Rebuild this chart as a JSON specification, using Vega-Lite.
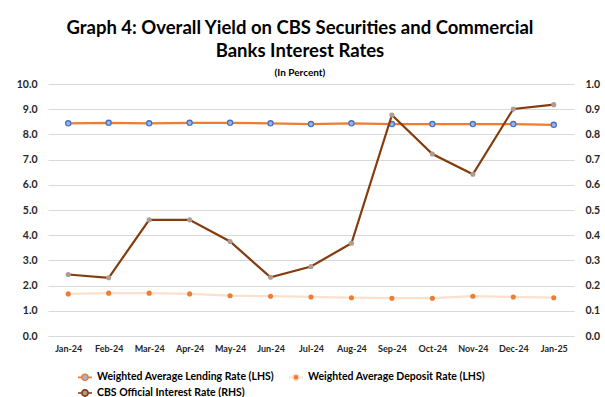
{
  "$schema": "https://vega.github.io/schema/vega-lite/v6.json",
  "width": 526,
  "height": 252,
  "autosize": {"type": "none"},
  "padding": {"left": 48, "top": 84, "right": 31, "bottom": 61},
  "background": "white",
  "title": {
    "text": ["Graph 4: Overall Yield on CBS Securities and Commercial", "Banks Interest Rates"],
    "subtitle": "(In Percent)",
    "font": "Lato",
    "fontSize": 18.5,
    "fontWeight": "bold",
    "lineHeight": 23,
    "color": "#000000",
    "subtitleFont": "Lato",
    "subtitleFontSize": 10,
    "subtitleFontWeight": "bold",
    "subtitleColor": "#000000",
    "subtitlePadding": 8,
    "anchor": "middle",
    "frame": "bounds",
    "dx": -8,
    "offset": 1
  },
  "data": {
    "values": [
      {"month": "Jan-24", "series": "Weighted Average Lending Rate (LHS)", "value": 8.44},
      {"month": "Feb-24", "series": "Weighted Average Lending Rate (LHS)", "value": 8.46},
      {"month": "Mar-24", "series": "Weighted Average Lending Rate (LHS)", "value": 8.44},
      {"month": "Apr-24", "series": "Weighted Average Lending Rate (LHS)", "value": 8.46},
      {"month": "May-24", "series": "Weighted Average Lending Rate (LHS)", "value": 8.46},
      {"month": "Jun-24", "series": "Weighted Average Lending Rate (LHS)", "value": 8.44},
      {"month": "Jul-24", "series": "Weighted Average Lending Rate (LHS)", "value": 8.41},
      {"month": "Aug-24", "series": "Weighted Average Lending Rate (LHS)", "value": 8.44},
      {"month": "Sep-24", "series": "Weighted Average Lending Rate (LHS)", "value": 8.41},
      {"month": "Oct-24", "series": "Weighted Average Lending Rate (LHS)", "value": 8.41},
      {"month": "Nov-24", "series": "Weighted Average Lending Rate (LHS)", "value": 8.41},
      {"month": "Dec-24", "series": "Weighted Average Lending Rate (LHS)", "value": 8.41},
      {"month": "Jan-25", "series": "Weighted Average Lending Rate (LHS)", "value": 8.38},
      {"month": "Jan-24", "series": "Weighted Average Deposit Rate (LHS)", "value": 1.67},
      {"month": "Feb-24", "series": "Weighted Average Deposit Rate (LHS)", "value": 1.70},
      {"month": "Mar-24", "series": "Weighted Average Deposit Rate (LHS)", "value": 1.70},
      {"month": "Apr-24", "series": "Weighted Average Deposit Rate (LHS)", "value": 1.67},
      {"month": "May-24", "series": "Weighted Average Deposit Rate (LHS)", "value": 1.60},
      {"month": "Jun-24", "series": "Weighted Average Deposit Rate (LHS)", "value": 1.58},
      {"month": "Jul-24", "series": "Weighted Average Deposit Rate (LHS)", "value": 1.55},
      {"month": "Aug-24", "series": "Weighted Average Deposit Rate (LHS)", "value": 1.52},
      {"month": "Sep-24", "series": "Weighted Average Deposit Rate (LHS)", "value": 1.50},
      {"month": "Oct-24", "series": "Weighted Average Deposit Rate (LHS)", "value": 1.50},
      {"month": "Nov-24", "series": "Weighted Average Deposit Rate (LHS)", "value": 1.58},
      {"month": "Dec-24", "series": "Weighted Average Deposit Rate (LHS)", "value": 1.55},
      {"month": "Jan-25", "series": "Weighted Average Deposit Rate (LHS)", "value": 1.52},
      {"month": "Jan-24", "series": "CBS Official Interest Rate (RHS)", "value": 0.244},
      {"month": "Feb-24", "series": "CBS Official Interest Rate (RHS)", "value": 0.231},
      {"month": "Mar-24", "series": "CBS Official Interest Rate (RHS)", "value": 0.461},
      {"month": "Apr-24", "series": "CBS Official Interest Rate (RHS)", "value": 0.461},
      {"month": "May-24", "series": "CBS Official Interest Rate (RHS)", "value": 0.375},
      {"month": "Jun-24", "series": "CBS Official Interest Rate (RHS)", "value": 0.233},
      {"month": "Jul-24", "series": "CBS Official Interest Rate (RHS)", "value": 0.276},
      {"month": "Aug-24", "series": "CBS Official Interest Rate (RHS)", "value": 0.368},
      {"month": "Sep-24", "series": "CBS Official Interest Rate (RHS)", "value": 0.877},
      {"month": "Oct-24", "series": "CBS Official Interest Rate (RHS)", "value": 0.722},
      {"month": "Nov-24", "series": "CBS Official Interest Rate (RHS)", "value": 0.642},
      {"month": "Dec-24", "series": "CBS Official Interest Rate (RHS)", "value": 0.901},
      {"month": "Jan-25", "series": "CBS Official Interest Rate (RHS)", "value": 0.918}
    ]
  },
  "encoding": {
    "x": {
      "field": "month",
      "type": "ordinal",
      "sort": null,
      "scale": {"type": "point", "padding": 0.5},
      "axis": {
        "title": null,
        "labelAngle": 0,
        "labelFont": "Lato",
        "labelFontSize": 9,
        "labelFontWeight": "bold",
        "labelColor": "#262626",
        "labelPadding": 8,
        "ticks": false,
        "domain": false,
        "grid": false
      }
    },
    "stroke": {
      "field": "series",
      "type": "nominal",
      "scale": {
        "domain": ["Weighted Average Lending Rate (LHS)", "Weighted Average Deposit Rate (LHS)", "CBS Official Interest Rate (RHS)"],
        "range": ["#ED7D31", "#FBE0CE", "#843C0C"]
      },
      "legend": {
        "title": null,
        "orient": "none",
        "direction": "horizontal",
        "legendX": 29,
        "legendY": 285,
        "columns": 2,
        "columnPadding": 10,
        "rowPadding": 1,
        "symbolType": "M-1,0L-0.45,0M0.45,0L1,0M-0.45,0A0.45,0.45,0,1,0,0.45,0A0.45,0.45,0,1,0,-0.45,0Z",
        "symbolSize": 196,
        "symbolStrokeWidth": 1.6,
        "labelFont": "Lato",
        "labelFontSize": 10.5,
        "labelFontWeight": "bold",
        "labelColor": "#000000",
        "labelLimit": 300,
        "encode": {
          "symbols": {
            "update": {
              "fill": {"scale": "fill", "field": "value"}
            }
          }
        }
      }
    }
  },
  "layer": [
    {
      "transform": [{"filter": "datum.series !== 'CBS Official Interest Rate (RHS)'"}],
      "encoding": {
        "y": {
          "field": "value",
          "type": "quantitative",
          "scale": {"domain": [0, 10], "nice": false},
          "axis": {
            "title": null,
            "orient": "left",
            "values": [0, 1, 2, 3, 4, 5, 6, 7, 8, 9, 10],
            "format": ".1f",
            "labelFont": "Lato",
            "labelFontSize": 10.5,
            "labelFontWeight": "bold",
            "labelColor": "#262626",
            "labelPadding": 11,
            "ticks": false,
            "domain": false,
            "grid": true,
            "gridColor": "#D9D9D9",
            "gridWidth": 1
          }
        }
      },
      "layer": [
        {"mark": {"type": "line", "strokeWidth": 2.2}},
        {
          "mark": {"type": "point", "shape": "circle", "size": 26, "filled": true, "strokeWidth": 1.3, "opacity": 1},
          "encoding": {
            "fill": {
              "field": "series",
              "type": "nominal",
              "scale": {
                "domain": ["Weighted Average Lending Rate (LHS)", "Weighted Average Deposit Rate (LHS)", "CBS Official Interest Rate (RHS)"],
                "range": ["#9DB5E0", "#ED7D31", "#AE9C92"]
              },
              "legend": null
            },
            "stroke": {
              "condition": {"test": "datum.series === 'Weighted Average Lending Rate (LHS)'", "value": "#4472C4"},
              "value": null
            }
          }
        }
      ]
    },
    {
      "transform": [{"filter": "datum.series === 'CBS Official Interest Rate (RHS)'"}],
      "encoding": {
        "y": {
          "field": "value",
          "type": "quantitative",
          "scale": {"domain": [0, 1], "nice": false},
          "axis": {
            "title": null,
            "orient": "right",
            "values": [0, 0.1, 0.2, 0.3, 0.4, 0.5, 0.6, 0.7, 0.8, 0.9, 1.0],
            "format": ".1f",
            "labelFont": "Lato",
            "labelFontSize": 10.5,
            "labelFontWeight": "bold",
            "labelColor": "#262626",
            "labelPadding": 11,
            "ticks": false,
            "domain": false,
            "grid": false
          }
        }
      },
      "layer": [
        {"mark": {"type": "line", "strokeWidth": 2.2}},
        {
          "mark": {"type": "point", "shape": "circle", "size": 26, "filled": true, "opacity": 1},
          "encoding": {
            "fill": {
              "field": "series",
              "type": "nominal",
              "scale": {
                "domain": ["Weighted Average Lending Rate (LHS)", "Weighted Average Deposit Rate (LHS)", "CBS Official Interest Rate (RHS)"],
                "range": ["#9DB5E0", "#ED7D31", "#AE9C92"]
              },
              "legend": null
            },
            "stroke": {"value": null}
          }
        }
      ]
    }
  ],
  "resolve": {"scale": {"y": "independent"}},
  "config": {"view": {"stroke": null}}
}
